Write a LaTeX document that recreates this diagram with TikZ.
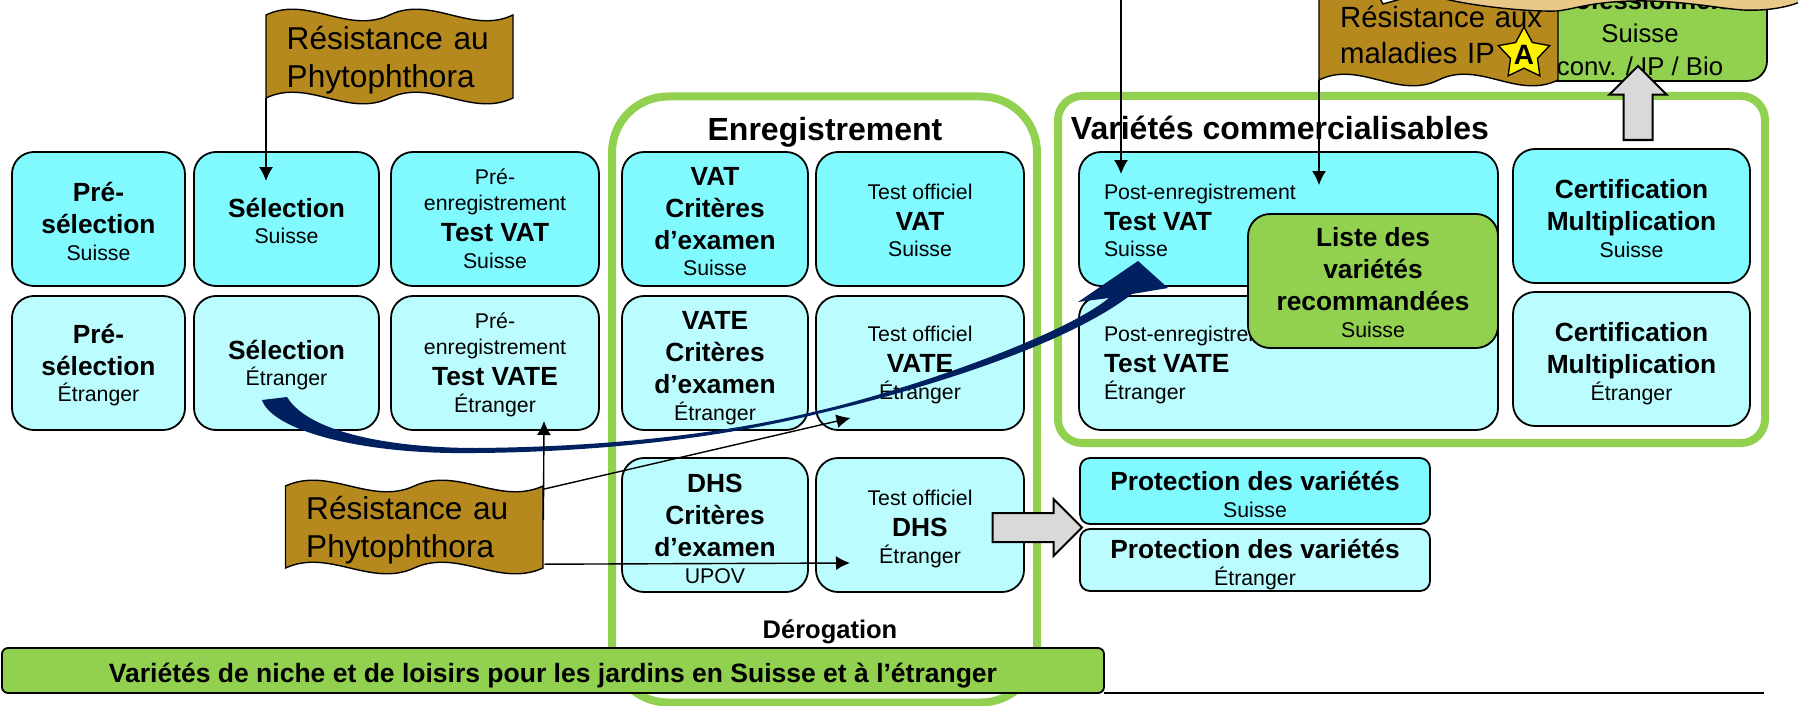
\documentclass[tikz,border=0pt]{standalone}
\usepackage{fontspec}
\usepackage{tikz}
\setmainfont{Liberation Sans}
\usetikzlibrary{shapes.geometric, shapes.arrows, arrows.meta, positioning}
\definecolor{var_cyan}{HTML}{80F9FF}
\definecolor{var_pale}{HTML}{BBFCFE}
\definecolor{var_green}{HTML}{92D050}
\definecolor{var_brown}{HTML}{B5891E}
\definecolor{var_tan}{HTML}{E9C987}
\definecolor{var_navy}{HTML}{002060}
\newcommand{\boldtxt}{\fontsize{26.3}{29}\selectfont\bfseries}
\newcommand{\plaintxt}{\fontsize{21.3}{29}\selectfont\mdseries}
\newcommand{\lasttxt}[1]{\raisebox{0pt}[\height][0pt]{#1}}
\newcommand{\toptxt}[1]{\rule{0pt}{#1}}
\newcommand{\flagshape}[4]{
	\draw[flagline,shift={(#1,#2)}] (0,0) .. controls (0.17*#3,-20) and (0.33*#3,20) .. (0.5*#3,0)
		.. controls (0.67*#3,-20) and (0.83*#3,20) .. (#3,0)
		-- (#3,#4) .. controls (0.83*#3,#4+20) and (0.67*#3,#4-20) .. (0.5*#3,#4)
		.. controls (0.33*#3,#4+20) and (0.17*#3,#4-20) .. (0,#4) -- cycle;
}
\tikzset{
	box/.style={rectangle,draw=black,line width=1.8pt,rounded corners=22pt,outer sep=0pt,align=center,inner sep=0pt,minimum height=134pt,font=\plaintxt},
	boxch/.style={box,fill=var_cyan},
	boxet/.style={box,fill=var_pale},
	boxpost/.style={text width=369pt,inner xsep=25pt,align=left},
	boxgreen/.style={box,fill=var_green},
	prot/.style={box,rounded corners=10pt,minimum width=350pt},
	frame/.style={rectangle,draw=var_green,line width=8pt,fill=white,inner sep=0pt},
	title/.style={font=\fontsize{32}{38}\selectfont\bfseries,inner sep=0pt},
	flagline/.style={draw=black,line width=1.4pt,fill=var_brown},
	flagtext/.style={rectangle,anchor=north west,align=left,inner sep=0pt,text=black},
	link/.style={line width=1.4pt,-{Latex[length=14pt,width=14pt]},black},
	blockarrow/.style={single arrow,draw=black,line width=2pt,fill=black!15,inner sep=0pt,inner ysep=13.5pt,single arrow head extend=14pt,anchor=tail},
}
\begin{document}
\begin{tikzpicture}[x=1pt,y=-1pt]
	\path[use as bounding box,clip] (0,0) rectangle (1798,706);
	\node[frame,rounded corners=56pt,minimum width=425pt,minimum height=606pt] (E) at (824.5,399.5) {};
	\node[frame,rounded corners=24pt,minimum width=707pt,minimum height=347pt] (V) at (1411.5,269.5) {};
	\node[title] (Etitle) at (825,132) {Enregistrement};
	\node[title] (Vtitle) at (1280,128) {Variétés commercialisables};
	\node[font=\fontsize{25.5}{30}\selectfont\bfseries,inner sep=0pt] (Eder) at (830,632) {Dérogation};

	\node[boxch,minimum width=173pt] (A1) at (98.5,219) {\boldtxt\toptxt{23.5pt}Pré-\\[3pt]\boldtxt sélection\\[-2.3pt]\lasttxt{Suisse}};
	\node[boxch,minimum width=185pt,right=9pt of A1] (A2) {\boldtxt\toptxt{23pt}Sélection\\[-2.3pt]\lasttxt{Suisse}};
	\node[boxch,minimum width=208pt,right=12pt of A2] (A3) {Pré-\\[-3pt]enregistrement\\[2pt]\boldtxt Test VAT\\[-2.3pt]\lasttxt{Suisse}};
	\node[boxet,minimum width=173pt,below=10pt of A1] (B1) {\boldtxt Pré-\\[3pt]\boldtxt sélection\\[-2.3pt]\lasttxt{Étranger}};
	\node[boxet,minimum width=185pt,below=10pt of A2] (B2) {\boldtxt Sélection\\[-2.3pt]\lasttxt{Étranger}};
	\node[boxet,minimum width=208pt,below=10pt of A3] (B3) {Pré-\\[-3pt]enregistrement\\[2pt]\boldtxt Test VATE\\[-2.3pt]\lasttxt{Étranger}};

	\node[boxch,minimum width=186pt] (C1) at (715,219) {\boldtxt\toptxt{23pt}VAT\\[3pt]\boldtxt Critères\\[3pt]\boldtxt d’examen\\[-2.3pt]\lasttxt{Suisse}};
	\node[boxch,minimum width=208pt,right=8pt of C1] (D1) {\toptxt{18pt}Test officiel\\[2pt]\boldtxt VAT\\[-2.3pt]\lasttxt{Suisse}};
	\node[boxet,minimum width=186pt,below=10pt of C1] (C2) {\boldtxt\toptxt{23.5pt}VATE\\[3pt]\boldtxt Critères\\[3pt]\boldtxt d’examen\\[-2.3pt]\lasttxt{Étranger}};
	\node[boxet,minimum width=208pt,below=10pt of D1] (D2) {Test officiel\\[2pt]\boldtxt VATE\\[-2.3pt]\lasttxt{Étranger}};
	\node[boxet,minimum width=186pt,below=28pt of C2] (C3) {\boldtxt\toptxt{26pt}DHS\\[3pt]\boldtxt Critères\\[3pt]\boldtxt d’examen\\[-2.3pt]\lasttxt{UPOV}};
	\node[boxet,minimum width=208pt,below=28pt of D2] (D3) {\toptxt{19.5pt}Test officiel\\[2pt]\boldtxt DHS\\[-2.3pt]\lasttxt{Étranger}};

	\node[boxch,boxpost] (P1) at (1288.5,219) {\plaintxt\toptxt{18pt}Post-enregistrement\\[2pt]\boldtxt Test VAT\\[-2.3pt]\plaintxt\lasttxt{Suisse}};
	\node[boxet,boxpost,below=10pt of P1] (P2) {\plaintxt Post-enregistrement\\[2pt]\boldtxt Test VATE\\[-2.3pt]\plaintxt\lasttxt{Étranger}};
	\node[boxch,minimum width=237pt] (M1) at (1631.5,216) {\boldtxt\toptxt{24pt}Certification\\[3pt]\boldtxt Multiplication\\[-2.3pt]\lasttxt{Suisse}};
	\node[boxet,minimum width=237pt,below=9pt of M1] (M2) {\boldtxt\toptxt{23.5pt}Certification\\[3pt]\boldtxt Multiplication\\[-2.3pt]\lasttxt{Étranger}};
	\node[boxet,prot,fill=var_cyan,minimum height=66pt] (R1) at (1255,491) {\boldtxt\toptxt{26pt}Protection des variétés\\[-2pt]\lasttxt{Suisse}};
	\node[boxet,prot,minimum height=62pt,below=5pt of R1] (R2) {\boldtxt\toptxt{23.5pt}Protection des variétés\\[-2pt]\lasttxt{Étranger}};
	\node[boxgreen,rounded corners=6pt,minimum width=1102pt,minimum height=45pt,font=\fontsize{26.5}{30}\selectfont\bfseries] (G) at (553,670.5) {\toptxt{24pt}\lasttxt{Variétés de niche et de loisirs pour les jardins en Suisse et à l’étranger}};
	\coordinate (Gend) at (1764,693);
	\draw[line width=1.5pt] (G.south east) -- (Gend);

	\node[boxgreen,minimum width=254pt,minimum height=96pt,rounded corners=20pt,font=\fontsize{25.7}{33}\selectfont] (Q) at (1640,33) {\bfseries Professionnels\\Suisse\\conv. / IP / Bio};

	\node[blockarrow,minimum width=55pt,minimum height=89.5pt] (H1) at (991.5,527.5) {};
	\node[blockarrow,minimum width=54pt,minimum height=74pt,rotate=90] (H2) at (1638,141) {};

	\flagshape{266}{15}{247}{83}
	\node[flagtext,text width=206pt,minimum height=83pt,inner xsep=20.5pt,font=\fontsize{31.6}{38}\selectfont] (F1) at (266,15) {Résistance au\\\lasttxt{Phytophthora}};
	\flagshape{285.5}{486}{257.5}{82}
	\node[flagtext,text width=216.5pt,minimum height=82pt,inner xsep=20.5pt,font=\fontsize{31.6}{38}\selectfont] (F2) at (285.5,486) {Résistance au\\\lasttxt{Phytophthora}};
	\flagshape{1319}{-10}{239}{90}
	\node[flagtext,text width=215pt,minimum height=90pt,inner xsep=12pt,xshift=9pt,font=\fontsize{29.3}{36}\selectfont] (F3) at (1319,-10) {Résistance aux\\maladies IP};

	\node[star,star points=5,star point ratio=1.9,draw=black,line width=1.4pt,fill=yellow,minimum size=54pt,inner sep=0pt] (S) at (1524,54) {};
	\node[font=\fontsize{28}{30}\selectfont\bfseries,inner sep=0pt] (Sa) at (1524,55) {A};

	\node[boxgreen,minimum width=250pt] (L) at (1373,281) {\boldtxt\toptxt{22pt}Liste des\\[3pt]\boldtxt variétés\\[3pt]\boldtxt recommandées\\[-2.3pt]\lasttxt{Suisse}};

	\fill[var_navy] (262,400) .. controls (272,430) and (360,455) .. (476,453)
		.. controls (600,452) and (720,438) .. (817,414)
		.. controls (900,395) and (1060,350) .. (1132,294)
		-- (1168,288) -- (1138,261) -- (1078,302) -- (1109,298)
		.. controls (1060,338) and (900,392) .. (817,411)
		.. controls (720,435) and (600,447) .. (476,448)
		.. controls (400,448) and (310,435) .. (287,397) -- cycle;

	\coordinate (Ttop) at (1121,-3);
	\draw[link] (F1.south west) -- ([xshift=-20.5pt,yshift=-29pt]A2.north);
	\draw[link] (Ttop) -- ([xshift=-167.5pt,yshift=-22pt]P1.north);
	\draw[link] ([xshift=-9pt]F3.south west) -- ([xshift=30.5pt,yshift=-33pt]P1.north);
	\draw[link] ([yshift=7pt]F2.east) -- ([xshift=49pt,yshift=9pt]B3.south);
	\draw[link] ([yshift=38pt]F2.east) -- ([xshift=-69.5pt,yshift=12pt]D2.south);
	\draw[link] ([xshift=1pt,yshift=-37pt]F2.east) -- ([xshift=-70pt,yshift=29pt]D3.south);

	\fill[white,draw=black,line width=1.4pt] (1379,-3) -- (1383,4) -- (1408,-3) -- cycle;
	\draw[draw=black,line width=1.4pt,fill=var_tan] (1438,-3) .. controls (1460,4) and (1520,12) .. (1557,11)
		.. controls (1575,9) and (1590,2) .. (1633,1)
		.. controls (1680,0) and (1715,8) .. (1743,10)
		.. controls (1765,11) and (1785,8) .. (1800,2) -- (1800,-5) -- (1438,-5) -- cycle;
\end{tikzpicture}
\end{document}
